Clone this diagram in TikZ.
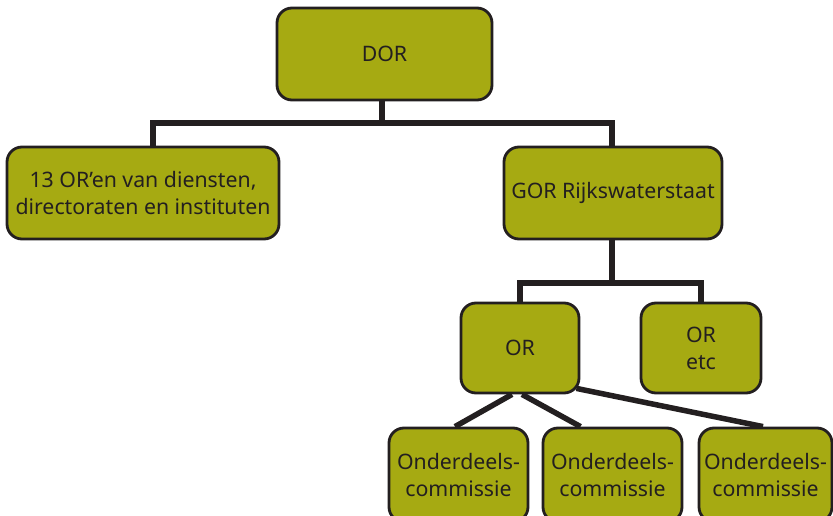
\documentclass[tikz,border=0pt]{standalone}
\usepackage{fontspec}
\setmainfont{Noto Sans}
\usetikzlibrary{backgrounds}
\definecolor{boxfill}{HTML}{A6AA12}
\definecolor{ink}{HTML}{231F20}
\tikzset{
  orgbox/.style={draw=ink, line width=2.8pt, fill=boxfill, rounded corners=15pt,
    text=ink, align=center, inner sep=0pt, font=\fontsize{21.3}{27}\selectfont},
  conn/.style={draw=ink, line width=5.5pt}
}
\begin{document}
\begin{tikzpicture}[x=1pt,y=-1pt]
\useasboundingbox (0,0) rectangle (833,516);
\node[orgbox, minimum width=215pt, minimum height=92pt] (dor) at (384.5,54) {DOR};
\node[orgbox, minimum width=272pt, minimum height=92pt] (left) at (143,193) {13 OR’en van diensten,\\directoraten en instituten};
\node[orgbox, minimum width=218pt, minimum height=92pt] (gor) at (613,193) {GOR Rijkswaterstaat};
\node[orgbox, minimum width=118pt, minimum height=90pt] (or) at (520,348) {OR};
\node[orgbox, minimum width=120pt, minimum height=90pt] (oretc) at (701,348) {OR\\etc};
\node[orgbox, minimum width=139pt, minimum height=94pt] (c1) at (458.5,475) {Onderdeels-\\commissie};
\node[orgbox, minimum width=139pt, minimum height=94pt] (c2) at (612.5,475) {Onderdeels-\\commissie};
\node[orgbox, minimum width=133pt, minimum height=94pt] (c3) at (765.5,475) {Onderdeels-\\commissie};
\coordinate (bar1) at (382,123);
\coordinate (bar2) at (612,283);
\begin{pgfonlayer}{background}
\draw[conn] ([xshift=-2.5pt]dor.south) -- (bar1);
\draw[conn] ([xshift=10pt]left.north) |- (bar1) -| ([xshift=-1pt]gor.north);
\draw[conn] ([xshift=-1pt]gor.south) -- (bar2);
\draw[conn] (or.north) |- (bar2) -| (oretc.north);
\draw[conn] ([xshift=-8pt]or.south) -- ([xshift=-3.5pt]c1.north);
\draw[conn] ([xshift=2pt]or.south) -- ([xshift=-32pt]c2.north);
\draw[conn] ([xshift=-4pt,yshift=6pt]or.south east) -- ([xshift=-2.5pt]c3.north);
\end{pgfonlayer}
\end{tikzpicture}
\end{document}
